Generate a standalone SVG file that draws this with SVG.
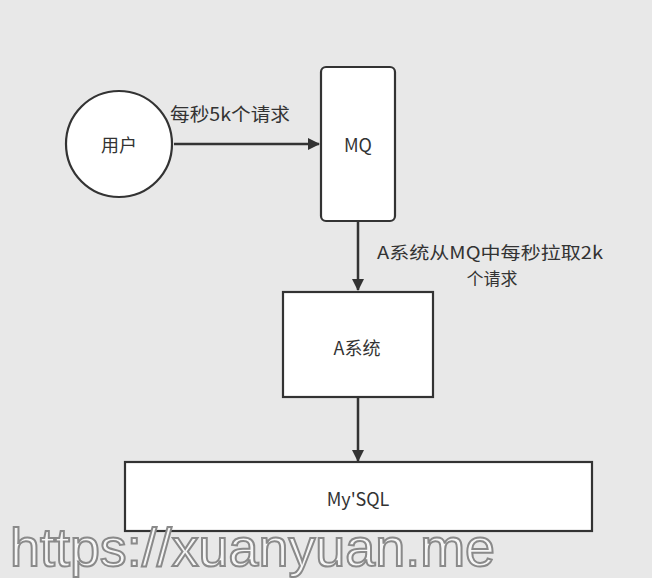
<svg xmlns="http://www.w3.org/2000/svg" width="652" height="578" viewBox="0 0 652 578">
  <defs>
    <marker id="arrow" markerWidth="12" markerHeight="12" viewBox="0 0 12 12" refX="11" refY="6" orient="auto" markerUnits="userSpaceOnUse">
      <path d="M0,0 L12,6 L0,12 Z" fill="#333"/>
    </marker>
    <style>
      .node { fill: #ffffff; stroke: #333333; stroke-width: 2.2; }
      .lbl { font-family: "Noto Sans CJK SC", "Noto Sans", sans-serif; font-size: 18px; fill: #333333; }
      .elbl { font-family: "Noto Sans CJK SC", "Noto Sans", sans-serif; font-size: 17px; fill: #333333; }
      .edge { stroke: #333333; stroke-width: 2.5; fill: none; }
    </style>
  </defs>
  <rect x="0" y="0" width="652" height="578" fill="#e8e8e8"/>

  <g id="connectors">
    <line class="edge" x1="174" y1="144" x2="319" y2="144" marker-end="url(#arrow)"/>
    <line class="edge" x1="358" y1="222" x2="358" y2="290" marker-end="url(#arrow)"/>
    <line class="edge" x1="358" y1="397" x2="358" y2="461" marker-end="url(#arrow)"/>
    <text class="lbl" x="230" y="113" text-anchor="middle" dominant-baseline="central" textLength="120" lengthAdjust="spacingAndGlyphs">每秒5k个请求</text>
    <text class="elbl" x="490" y="251" text-anchor="middle" dominant-baseline="central" textLength="226" lengthAdjust="spacingAndGlyphs">A系统从MQ中每秒拉取2k</text>
    <text class="elbl" x="492" y="277" text-anchor="middle" dominant-baseline="central">个请求</text>
  </g>

  <g id="user">
    <circle class="node" cx="119" cy="144" r="53"/>
    <text class="lbl" x="119" y="144" text-anchor="middle" dominant-baseline="central">用户</text>
  </g>

  <g id="mq">
    <rect class="node" x="321" y="67" width="74" height="154" rx="5"/>
    <text class="lbl" x="358" y="144" text-anchor="middle" dominant-baseline="central">MQ</text>
  </g>

  <g id="system-a">
    <rect class="node" x="283" y="292" width="150" height="105"/>
    <text class="lbl" x="357" y="347" text-anchor="middle" dominant-baseline="central">A系统</text>
  </g>

  <g id="mysql">
    <rect class="node" x="125" y="462" width="467" height="69"/>
    <text class="lbl" x="358" y="498" text-anchor="middle" dominant-baseline="central">My'SQL</text>
  </g>

  <text x="10" y="566" font-family="Liberation Sans, Arial, sans-serif" font-size="54" fill="#f6f6f6" stroke="#8a8a8a" stroke-width="2" textLength="485" lengthAdjust="spacingAndGlyphs">https://xuanyuan.me</text>
</svg>
